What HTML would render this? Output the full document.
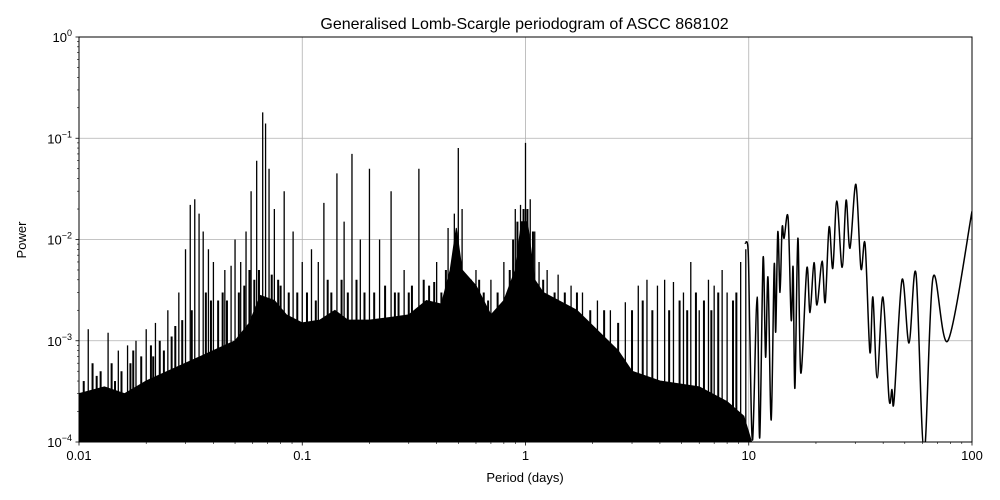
<!DOCTYPE html>
<html><head><meta charset="utf-8">
<style>
html,body{margin:0;padding:0;background:#fff;}
svg{display:block;font-family:"Liberation Sans","DejaVu Sans",sans-serif;}
</style></head>
<body>
<svg id="chart" width="1000" height="500" viewBox="0 0 1000 500">
<rect x="0" y="0" width="1000" height="500" fill="#fff"/>
<text x="524.5" y="29" font-size="16" text-anchor="middle">Generalised Lomb-Scargle periodogram of ASCC 868102</text>
<defs><clipPath id="plotclip"><rect x="79" y="37" width="893" height="405"/></clipPath></defs>
<g id="grid"></g>
<g id="marks" clip-path="url(#plotclip)"></g>
<rect x="79" y="37" width="893" height="405" fill="none" stroke="#000" stroke-width="1"/>
<g id="axes"></g>
<text x="525" y="482" font-size="13" text-anchor="middle">Period (days)</text>
<text x="26" y="240" font-size="13" text-anchor="middle" transform="rotate(-90 26 240)">Power</text>
</svg>
<script>
// ---- data ----
const xTicks = [0.01, 0.1, 1, 10, 100];
const xTickLabels = ["0.01", "0.1", "1", "10", "100"];
const yTicks = [1e-4, 1e-3, 1e-2, 1e-1, 1];
const yTickExps = ["−4", "−3", "−2", "−1", "0"];
// solid noise envelope
const envPeriods = [0.01,0.013,0.016,0.02,0.025,0.03,0.035,0.04,0.05,0.058,0.065,0.075,0.085,0.1,0.12,0.14,0.16,0.2,0.25,0.3,0.36,0.42,0.46,0.49,0.52,0.6,0.7,0.8,0.9,0.96,1.02,1.1,1.2,1.7,2.6,3,4,6,8,9.5,10.3];
const envPowers = [3e-4,3.5e-4,3e-4,4e-4,5e-4,6e-4,7e-4,8e-4,1e-3,1.5e-3,2.8e-3,2.5e-3,1.8e-3,1.5e-3,1.6e-3,2e-3,1.6e-3,1.6e-3,1.7e-3,1.8e-3,2.5e-3,2.3e-3,5e-3,1.3e-2,5e-3,3.5e-3,1.8e-3,2.5e-3,5e-3,1.5e-2,1.5e-2,4e-3,3e-3,2e-3,8e-4,5e-4,4e-4,3.5e-4,2.5e-4,1.8e-4,1e-4];
// main peaks
const spikePeriods = [0.011,0.0135,0.015,0.0165,0.018,0.02,0.022,0.025,0.028,0.030,0.0315,0.033,0.0345,0.036,0.038,0.04,0.045,0.048,0.05,0.053,0.056,0.059,0.0625,0.0665,0.0685,0.071,0.075,0.083,0.091,0.1,0.11,0.118,0.125,0.143,0.154,0.167,0.182,0.2,0.222,0.25,0.286,0.333,0.4,0.45,0.48,0.5,0.52,0.6,0.7,0.8,0.9,0.95,1.0,1.05,1.1,1.15,1.25,1.4,1.6,1.8,2.1,2.4,2.8,3.2,3.5,3.9,4.2,4.6,5.1,5.5,6,6.6,7,7.6,8,9.2,9.7];
const spikePowers = [1.3e-3,1.2e-3,8e-4,9e-4,1e-3,1.3e-3,1.5e-3,2e-3,3e-3,8e-3,2.2e-2,2.5e-2,1.8e-2,1.2e-2,8e-3,6e-3,5e-3,5.5e-3,1e-2,6e-3,1.2e-2,3e-2,6e-2,1.8e-1,1.4e-1,5e-2,2e-2,3e-2,1.2e-2,6e-3,8e-3,6e-3,2.3e-2,4.5e-2,1.5e-2,7e-2,1e-2,5e-2,1e-2,3e-2,5e-3,5e-2,6e-3,1.3e-2,1.8e-2,8e-2,2e-2,5e-3,4e-3,6e-3,2e-2,2.2e-2,9e-2,2.5e-2,1.2e-2,6e-3,5e-3,4.5e-3,3.5e-3,3e-3,2.5e-3,2e-3,2.4e-3,3.5e-3,4e-3,3.5e-3,4e-3,3.8e-3,3e-3,6e-3,2e-3,4e-3,3.5e-3,5e-3,3e-3,6e-3,8e-3];
// minor noise peaks
const minorPeriods = [0.0105,0.0115,0.012,0.0125,0.014,0.0145,0.0155,0.017,0.0175,0.019,0.021,0.0215,0.023,0.024,0.026,0.027,0.029,0.032,0.037,0.039,0.042,0.044,0.046,0.052,0.055,0.058,0.061,0.064,0.073,0.078,0.08,0.087,0.095,0.105,0.115,0.13,0.135,0.15,0.16,0.175,0.19,0.21,0.235,0.26,0.27,0.3,0.31,0.35,0.37,0.39,0.42,0.44,0.47,0.54,0.57,0.62,0.65,0.68,0.75,0.85,0.88,0.92,0.98,1.02,1.08,1.2,1.35,1.5,1.7,1.95,2.25,2.6,3.0,3.35,3.7,4.4,4.9,5.3,5.8,6.3,6.8,7.3,8.5,8.8];
const minorPowers = [4e-4,6e-4,4.5e-4,5e-4,6e-4,4e-4,5e-4,6e-4,8e-4,7e-4,9e-4,7e-4,1e-3,8e-4,1.1e-3,1.4e-3,1.6e-3,2e-3,3e-3,2.5e-3,2.5e-3,3e-3,2.5e-3,3e-3,3.5e-3,5e-3,4e-3,5e-3,4.5e-3,4e-3,3.5e-3,3e-3,3e-3,3e-3,2.5e-3,4e-3,3e-3,4e-3,3e-3,4e-3,3e-3,3e-3,3.5e-3,3e-3,3e-3,3e-3,3.5e-3,4e-3,3.5e-3,3.8e-3,3e-3,5e-3,6e-3,4e-3,4e-3,4e-3,3e-3,2.5e-3,3e-3,5e-3,1e-2,1.5e-2,2e-2,2e-2,1.2e-2,4e-3,3e-3,3e-3,3e-3,2e-3,2e-3,1.5e-3,2e-3,2.5e-3,2e-3,2e-3,2.5e-3,2e-3,3e-3,2.5e-3,2e-3,3e-3,2.5e-3,3e-3];
// smooth long-period tail
const tailPeriods = [9.62,9.93,10.1,10.4,10.9,11.2,11.6,11.9,12.2,12.6,13.0,13.2,13.5,13.8,14.1,14.4,15.0,15.5,15.8,16.1,16.6,17.1,18.2,18.8,19.6,20.2,21.3,22.0,22.9,23.8,24.8,26.2,27.3,28.4,30.2,31.8,33.2,34.9,36.0,37.6,39.9,42.5,43.8,44.8,48.6,52.2,56.1,61.0,66.9,78.0,100];
const tailPowers = [9.2e-3,7.9e-3,1.37e-3,1.05e-4,2.7e-3,1.1e-4,6.6e-3,6.9e-4,4.2e-3,1.65e-4,5.6e-3,1.22e-3,1.19e-2,3.0e-3,1.3e-2,1.03e-2,1.63e-2,1.6e-3,5.3e-3,3.4e-4,1.03e-2,4.8e-4,5.2e-3,1.9e-3,5.9e-3,2.25e-3,6.1e-3,2.4e-3,1.33e-2,5.2e-3,2.4e-2,5.3e-3,2.45e-2,8.2e-3,3.5e-2,5.2e-3,9.0e-3,7.7e-4,2.7e-3,4.3e-4,2.7e-3,2.7e-4,3.3e-4,2.6e-4,4.0e-3,9.5e-4,4.6e-3,8e-5,4.2e-3,1.0e-3,1.9e-2];

// ---- axes ----
const X0=79,X1=972,Y0=442,Y1=37;
const xs = p => X0 + (Math.log10(p)+2)/4*(X1-X0);
const ys = v => Y0 - (Math.log10(v)+4)/4*(Y0-Y1);
const NS="http://www.w3.org/2000/svg";
function mk(tag, attrs, parent){const e=document.createElementNS(NS,tag);for(const k in attrs)e.setAttribute(k,attrs[k]);parent.appendChild(e);return e;}
const grid=document.getElementById('grid'), axes=document.getElementById('axes'), marks=document.getElementById('marks');

xTicks.forEach((t,i)=>{
  const x=xs(t);
  if(i>0&&i<xTicks.length-1){const g=mk('line',{x1:x,x2:x,y1:Y1,y2:Y0,stroke:'#b0b0b0','stroke-width':0.8},grid);
  
  }
  const tk=mk('line',{x1:x,x2:x,y1:Y0,y2:Y0+3.5,stroke:'#000','stroke-width':0.8},axes);
  
  
  const tl=mk('text',{x:x,y:Y0+18,'font-size':13,'text-anchor':'middle'},axes);
  tl.textContent=xTickLabels[i];
  
  
  if(i<xTicks.length-1){for(let m=2;m<=9;m++){const xm=xs(t*m);
    const mt=mk('line',{x1:xm,x2:xm,y1:Y0,y2:Y0+2,stroke:'#000','stroke-width':0.6},axes);
    
    }}
});
yTicks.forEach((t,i)=>{
  const y=ys(t);
  if(i>0&&i<yTicks.length-1){const g=mk('line',{x1:X0,x2:X1,y1:y,y2:y,stroke:'#b0b0b0','stroke-width':0.8},grid);
  
  }
  const tk=mk('line',{x1:X0-3.5,x2:X0,y1:y,y2:y,stroke:'#000','stroke-width':0.8},axes);
  
  
  const tl=mk('text',{x:X0-7,y:y+5,'font-size':13,'text-anchor':'end'},axes);
  
  
  const b=mk('tspan',{},tl);b.textContent='10';
  const s=mk('tspan',{dy:-6,'font-size':9},tl);s.textContent=yTickExps[i];
  if(i<yTicks.length-1){for(let m=2;m<=9;m++){const ym=ys(t*m);
    const mt=mk('line',{x1:X0-2,x2:X0,y1:ym,y2:ym,stroke:'#000','stroke-width':0.6},axes);
    
    }}
});

// envelope
let d='M'+xs(envPeriods[0])+','+(Y0+2);
envPeriods.forEach((p,i)=>{d+=' L'+xs(p).toFixed(1)+','+ys(envPowers[i]).toFixed(1);});
d+=' L'+xs(envPeriods[envPeriods.length-1])+','+(Y0+2)+' Z';
const env=mk('path',{d:d,fill:'#000',stroke:'#000','stroke-width':1},marks);



// minor spikes
minorPeriods.forEach((p,i)=>{
  const x=xs(p);
  const l=mk('line',{x1:x,x2:x,y1:Y0+2,y2:ys(minorPowers[i]),stroke:'#000','stroke-width':2},marks);
  
  
});
// main spikes
spikePeriods.forEach((p,i)=>{
  const x=xs(p);
  const l=mk('line',{x1:x,x2:x,y1:Y0+2,y2:ys(spikePowers[i]),stroke:'#000','stroke-width':1.3},marks);
  
  
});

// tail smooth curve (Catmull-Rom)
const pts=tailPeriods.map((p,i)=>[xs(p),ys(tailPowers[i])]);
let td='M'+pts[0][0].toFixed(1)+','+pts[0][1].toFixed(1);
for(let i=0;i<pts.length-1;i++){
  const p0=pts[Math.max(0,i-1)],p1=pts[i],p2=pts[i+1],p3=pts[Math.min(pts.length-1,i+2)];
  const c1=[p1[0]+(p2[0]-p0[0])/6,p1[1]+(p2[1]-p0[1])/6];
  const c2=[p2[0]-(p3[0]-p1[0])/6,p2[1]-(p3[1]-p1[1])/6];
  td+=' C'+c1[0].toFixed(1)+','+c1[1].toFixed(1)+' '+c2[0].toFixed(1)+','+c2[1].toFixed(1)+' '+p2[0].toFixed(1)+','+p2[1].toFixed(1);
}
const tail=mk('path',{d:td,fill:'none',stroke:'#000','stroke-width':1.5},marks);


</script>
</body></html>
